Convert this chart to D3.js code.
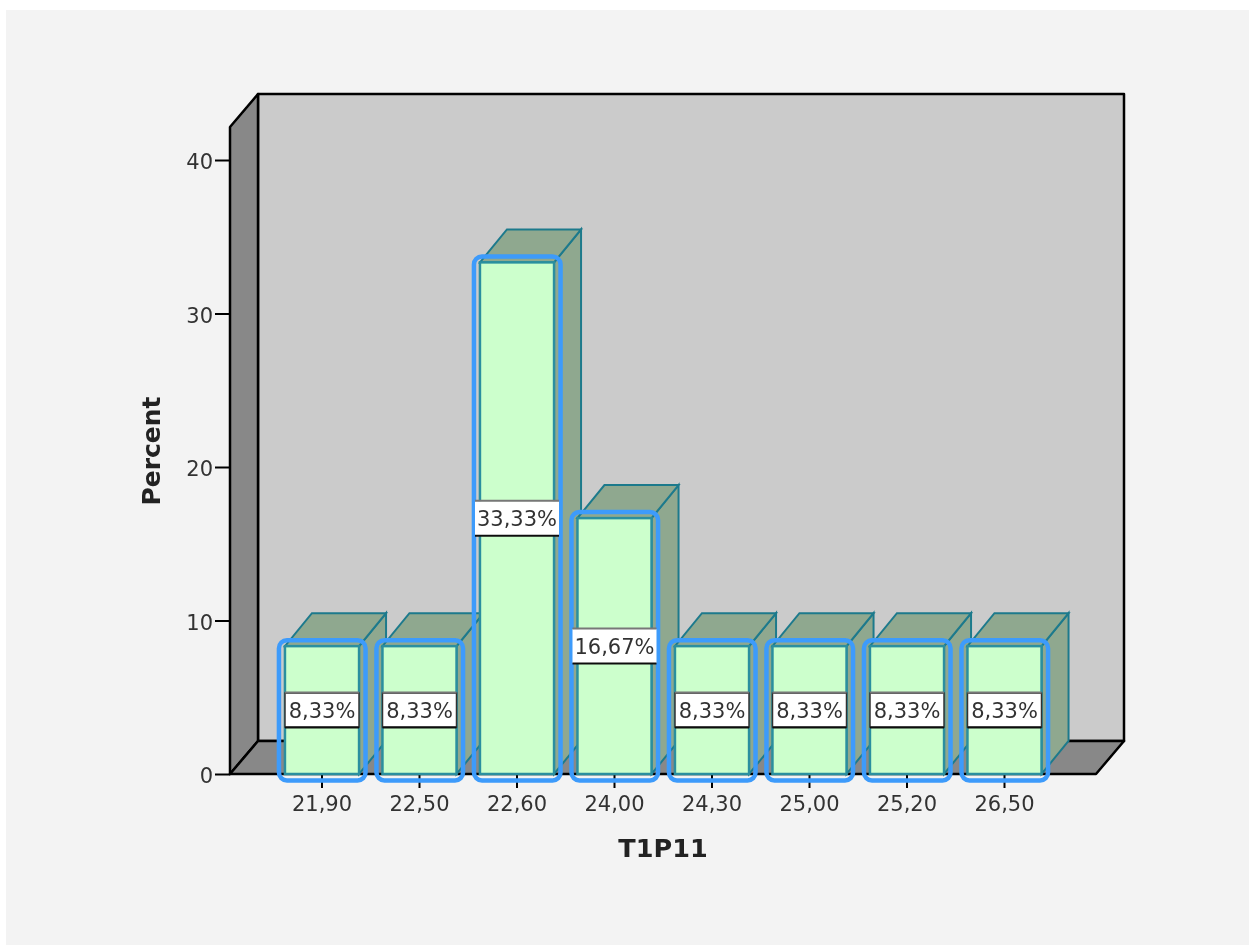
<!DOCTYPE html>
<html>
<head>
<meta charset="utf-8">
<script src="https://cdn.jsdelivr.net/npm/d3@7"></script>
<style>
  html, body { margin: 0; padding: 0; background: #fff; }
  svg { display: block; }
  text { font-family: "DejaVu Sans", sans-serif; fill: #333; }
</style>
</head>
<body>
<svg id="chart" width="1249" height="945"></svg>
<script>
const categories = ["21,90", "22,50", "22,60", "24,00", "24,30", "25,00", "25,20", "26,50"];
const percents = [8.33, 8.33, 33.33, 16.67, 8.33, 8.33, 8.33, 8.33];
const percentLabels = ["8,33%", "8,33%", "33,33%", "16,67%", "8,33%", "8,33%", "8,33%", "8,33%"];
const yTicks = [0, 10, 20, 30, 40];

const root = d3.select("#chart");

// the original is a slightly soft screenshot
root.append("defs").append("filter").attr("id", "soft")
    .attr("x", 0).attr("y", 0).attr("width", "100%").attr("height", "100%")
    .append("feGaussianBlur").attr("stdDeviation", 0.55);
const svg = root.append("g").attr("filter", "url(#soft)");

// grey panel
svg.append("rect").attr("x", 6).attr("y", 10).attr("width", 1243).attr("height", 935).attr("fill", "#f3f3f3");

const x = d3.scaleBand().domain(categories).range([273.25, 1053.25]).paddingInner(.24).paddingOuter(.12);
const y = d3.scaleLinear().domain([0, 40]).range([774, 160]);

// 3d offset of the chart box and of the bars
const depthX = 28, depthY = -33;
const barDepthX = 27, barDepthY = -33;
const boxLeft = 230, boxRight = 1096, boxBottom = 774, boxTop = 127;

const poly = (pts) => pts.map(p => p.join(",")).join(" ");

const box = svg.append("g").attr("stroke", "#000").attr("stroke-width", 2.5).attr("stroke-linejoin", "round");
// back wall
box.append("rect")
    .attr("x", boxLeft + depthX).attr("y", boxTop + depthY)
    .attr("width", boxRight - boxLeft).attr("height", boxBottom - boxTop)
    .attr("fill", "#cbcbcb");
// left wall
box.append("polygon")
    .attr("points", poly([[boxLeft, boxBottom], [boxLeft, boxTop], [boxLeft + depthX, boxTop + depthY], [boxLeft + depthX, boxBottom + depthY]]))
    .attr("fill", "#888");
// floor
box.append("polygon")
    .attr("points", poly([[boxLeft, boxBottom], [boxRight, boxBottom], [boxRight + depthX, boxBottom + depthY], [boxLeft + depthX, boxBottom + depthY]]))
    .attr("fill", "#888");

// axes
const yAxis = d3.axisLeft(y).tickValues(yTicks).tickSize(15).tickPadding(2);
const gy = svg.append("g").attr("transform", `translate(${boxLeft},0)`).call(yAxis);
gy.select(".domain").remove();
gy.selectAll("line").attr("stroke", "#000").attr("stroke-width", 2);
gy.selectAll("text").attr("font-size", 21).attr("dy", "0.42em");

const xAxis = d3.axisBottom(x).tickSize(14).tickPadding(8);
const gx = svg.append("g").attr("transform", `translate(0,${boxBottom})`).call(xAxis);
gx.select(".domain").remove();
gx.selectAll("line").attr("stroke", "#000").attr("stroke-width", 2);
gx.selectAll("text").attr("font-size", 21);

// bars, left to right so each front covers the side of the previous one
const bars = svg.append("g").selectAll("g").data(percents).join("g");
const xOf = (d, i) => x(categories[i]);

bars.append("polygon")
    .attr("points", (d, i) => {
        const x1 = xOf(d, i) + x.bandwidth(), yt = y(d);
        return poly([[x1, boxBottom], [x1, yt], [x1 + barDepthX, yt + barDepthY], [x1 + barDepthX, boxBottom + barDepthY]]);
    })
    .attr("fill", "#8fa88f").attr("stroke", "#1f7a8c").attr("stroke-width", 2);
bars.append("polygon")
    .attr("points", (d, i) => {
        const x0 = xOf(d, i), x1 = x0 + x.bandwidth(), yt = y(d);
        return poly([[x0, yt], [x1, yt], [x1 + barDepthX, yt + barDepthY], [x0 + barDepthX, yt + barDepthY]]);
    })
    .attr("fill", "#8fa88f").attr("stroke", "#1f7a8c").attr("stroke-width", 2);
bars.append("rect")
    .attr("x", xOf).attr("y", d => y(d))
    .attr("width", x.bandwidth()).attr("height", d => boxBottom - y(d))
    .attr("fill", "#ccffcc").attr("stroke", "#2a8f9f").attr("stroke-width", 2.5);

// selection outlines
svg.append("g").selectAll("rect").data(percents).join("rect")
    .attr("x", (d, i) => xOf(d, i) - 6).attr("y", d => y(d) - 6)
    .attr("width", x.bandwidth() + 12.5).attr("height", d => boxBottom - y(d) + 12.5)
    .attr("rx", 8)
    .attr("fill", "none").attr("stroke", "#3d9bfb").attr("stroke-width", 4.5);

// value labels: the short ones fit the bar and show side borders, the long ones stick out
const isLong = (i) => percentLabels[i].length > 5;
const labels = svg.append("g").selectAll("g").data(percents).join("g")
    .attr("transform", (d, i) => `translate(${xOf(d, i) + x.bandwidth() / 2},${(y(d) + boxBottom) / 2})`);
labels.append("rect")
    .attr("x", (d, i) => isLong(i) ? -42 : -37).attr("y", -17)
    .attr("width", (d, i) => isLong(i) ? 84 : 74).attr("height", 34)
    .attr("fill", "#fff")
    .attr("stroke", (d, i) => isLong(i) ? "none" : "#333").attr("stroke-width", 1.5);
labels.append("line")
    .attr("x1", (d, i) => isLong(i) ? -42 : -37).attr("x2", (d, i) => isLong(i) ? 42 : 37)
    .attr("y1", -17.5).attr("y2", -17.5)
    .attr("stroke", "#777").attr("stroke-width", 2);
labels.append("line")
    .attr("x1", (d, i) => isLong(i) ? -42 : -37).attr("x2", (d, i) => isLong(i) ? 42 : 37)
    .attr("y1", 17.5).attr("y2", 17.5)
    .attr("stroke", "#111").attr("stroke-width", 2);
labels.append("text")
    .attr("text-anchor", "middle").attr("dy", "0.36em")
    .attr("font-size", 21)
    .text((d, i) => percentLabels[i]);

// axis titles
svg.append("text").attr("x", 663).attr("y", 857)
    .attr("text-anchor", "middle").attr("font-size", 25.5).attr("font-weight", "bold").style("fill", "#222")
    .text("T1P11");
svg.append("text").attr("transform", "translate(160,451) rotate(-90)")
    .attr("text-anchor", "middle").attr("font-size", 25).attr("font-weight", "bold").style("fill", "#222")
    .text("Percent");
</script>
</body>
</html>
